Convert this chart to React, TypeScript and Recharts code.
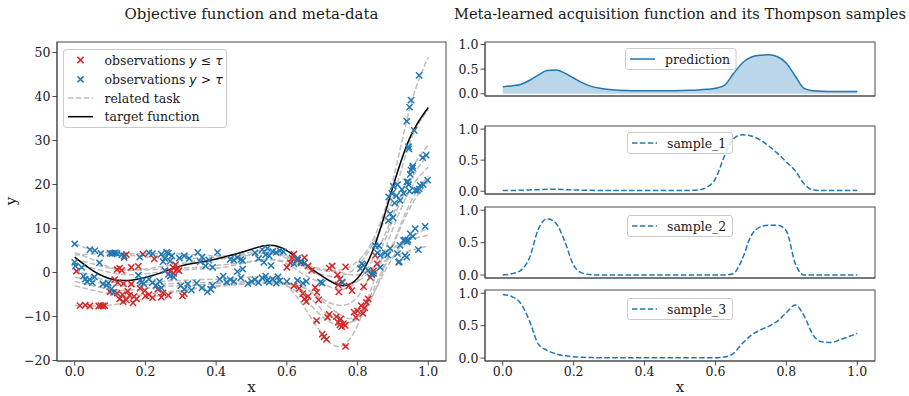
import React from 'react';
import { ComposedChart, Line, Scatter, Area, XAxis, YAxis } from 'recharts';

// ---------------- data: left panel ----------------
const xGrid = [0, 0.05, 0.1, 0.15, 0.2, 0.25, 0.3, 0.35, 0.4, 0.45, 0.5, 0.55, 0.6, 0.65, 0.7, 0.75, 0.8, 0.85, 0.9, 0.95, 1.0];
const target = [3.5, 0.5, -1.4, -1.8, -1.1, 0.1, 1.5, 2.3, 3.1, 4.1, 5.3, 6.2, 5.0, 2.0, -0.8, -2.9, -1.3, 6.5, 19.5, 31.0, 37.5];
const task1 = [6.5, 5.2, 4.5, 4.3, 4.3, 4.3, 4.2, 4.0, 3.8, 4.0, 4.6, 5.0, 3.8, 2.0, 0.8, 0.6, 2.5, 8.5, 21.0, 38.0, 49.0];
const task2 = [4.5, 3.0, 1.2, 0.6, 0.8, 1.4, 2.0, 2.6, 3.0, 3.4, 4.0, 4.4, 3.2, 1.2, -0.5, -0.8, 1.5, 7.5, 17.0, 30.0, 37.0];
const task3 = [2.0, 1.0, 0.0, -0.5, -0.3, 0.2, 0.5, 0.8, 1.0, 1.6, 2.5, 3.0, 2.0, -0.5, -2.5, -3.8, -2.0, 4.0, 13.0, 23.0, 29.0];
const task4 = [0.5, -0.8, -2.0, -2.5, -2.3, -2.0, -1.8, -1.6, -1.5, -1.3, -1.0, -1.0, -3.0, -8.0, -14.0, -16.8, -12.0, -1.0, 10.0, 19.0, 24.0];
const task5 = [-1.0, -2.0, -2.8, -3.0, -2.8, -2.6, -2.4, -2.3, -2.2, -2.2, -2.0, -2.0, -3.0, -6.0, -10.0, -12.0, -10.0, -3.0, 6.5, 16.0, 22.0];
const task6 = [-2.0, -3.0, -3.8, -4.0, -3.6, -3.2, -3.0, -2.8, -2.5, -2.5, -2.3, -2.2, -2.5, -4.5, -8.5, -11.0, -10.5, -4.0, 6.0, 15.0, 20.7];
const task7 = [-3.0, -4.0, -4.8, -5.3, -5.0, -4.5, -4.0, -3.5, -3.0, -2.6, -2.4, -2.3, -2.6, -3.5, -6.5, -9.5, -10.0, -4.0, 3.5, 8.0, 10.0];
const task8 = [4.0, 4.2, 4.2, 4.0, 3.6, 3.3, 3.2, 3.3, 3.5, 3.8, 4.2, 4.5, 3.5, 1.5, -1.0, -2.5, -2.0, 1.5, 5.5, 7.5, 8.5];
const task9 = [3.0, 2.0, 1.0, 0.5, 0.6, 0.8, 1.0, 1.2, 1.6, 2.0, 2.6, 3.0, 2.5, 1.5, 0.5, 0.0, -0.5, 1.5, 3.5, 5.0, 6.0];
const task10 = [-7.5, -7.6, -7.4, -6.8, -6.0, -5.0, -4.2, -3.6, -3.2, -2.8, -2.6, -2.4, -2.4, -3.5, -6.0, -7.5, -5.5, 2.0, 12.0, 21.0, 27.0];

const redObs = [
  { x: 0.005, y: 0.3 }, { x: 0.015, y: -7.5 }, { x: 0.03, y: -7.4 }, { x: 0.043, y: -7.6 }, { x: 0.068, y: -7.6 },
  { x: 0.074, y: -7.5 }, { x: 0.08, y: -7.6 }, { x: 0.085, y: -7.5 },
  { x: 0.12, y: 0.7 }, { x: 0.127, y: 1.0 }, { x: 0.133, y: 0.5 }, { x: 0.14, y: 3.8 }, { x: 0.146, y: 4.1 },
  { x: 0.16, y: 1.2 }, { x: 0.18, y: 1.4 }, { x: 0.193, y: 4.2 }, { x: 0.225, y: 3.1 },
  { x: 0.113, y: -1.6 }, { x: 0.122, y: -2.3 }, { x: 0.138, y: -2.5 }, { x: 0.16, y: -2.6 },
  { x: 0.1, y: -4.4 }, { x: 0.12, y: -4.7 }, { x: 0.135, y: -5.0 }, { x: 0.15, y: -4.2 },
  { x: 0.127, y: -6.0 }, { x: 0.137, y: -6.6 }, { x: 0.146, y: -6.2 }, { x: 0.155, y: -5.2 }, { x: 0.165, y: -6.9 },
  { x: 0.175, y: -6.0 }, { x: 0.168, y: -5.4 }, { x: 0.198, y: -4.1 }, { x: 0.185, y: -3.6 },
  { x: 0.2, y: -5.3 }, { x: 0.21, y: -5.0 }, { x: 0.22, y: -5.7 }, { x: 0.235, y: -3.8 }, { x: 0.25, y: -4.6 },
  { x: 0.265, y: -5.2 }, { x: 0.245, y: -5.6 },
  { x: 0.27, y: 0.2 }, { x: 0.278, y: 1.2 }, { x: 0.285, y: 1.8 }, { x: 0.29, y: 0.8 }, { x: 0.295, y: 0.4 },
  { x: 0.28, y: -0.2 }, { x: 0.31, y: -4.8 }, { x: 0.305, y: -5.3 },
  { x: 0.6, y: 1.2 }, { x: 0.61, y: 2.2 }, { x: 0.615, y: 3.3 }, { x: 0.62, y: 4.2 }, { x: 0.63, y: 2.8 },
  { x: 0.64, y: 2.2 }, { x: 0.65, y: 3.4 }, { x: 0.66, y: 1.5 }, { x: 0.67, y: 0.5 },
  { x: 0.62, y: -3.0 }, { x: 0.635, y: -3.6 }, { x: 0.645, y: -4.8 }, { x: 0.65, y: -6.0 }, { x: 0.655, y: -6.6 },
  { x: 0.66, y: -5.4 }, { x: 0.68, y: -3.4 }, { x: 0.685, y: -4.5 }, { x: 0.69, y: -6.2 },
  { x: 0.684, y: -10.9 }, { x: 0.7, y: -14.0 }, { x: 0.705, y: -14.6 }, { x: 0.712, y: -15.2 }, { x: 0.72, y: -9.5 },
  { x: 0.715, y: -10.2 }, { x: 0.72, y: 1.0 }, { x: 0.728, y: 1.5 },
  { x: 0.743, y: -0.5 }, { x: 0.75, y: -1.5 }, { x: 0.757, y: -2.3 }, { x: 0.745, y: -2.8 }, { x: 0.747, y: -4.4 },
  { x: 0.74, y: -10.0 }, { x: 0.745, y: -11.3 }, { x: 0.75, y: -11.9 }, { x: 0.755, y: -12.3 }, { x: 0.76, y: -11.6 },
  { x: 0.765, y: -12.0 }, { x: 0.752, y: -10.5 }, { x: 0.766, y: -16.8 },
  { x: 0.766, y: 1.3 }, { x: 0.784, y: -4.1 }, { x: 0.775, y: -3.0 }, { x: 0.79, y: -9.0 }, { x: 0.795, y: -10.2 },
  { x: 0.8, y: -8.7 }, { x: 0.81, y: -7.5 }, { x: 0.82, y: -8.0 }, { x: 0.825, y: -6.8 }, { x: 0.83, y: -6.0 },
  { x: 0.815, y: -9.3 }, { x: 0.836, y: -1.1 }, { x: 0.84, y: -0.3 }, { x: 0.845, y: 0.4 }, { x: 0.85, y: 3.9 },
  { x: 0.817, y: -3.2 }, { x: 0.855, y: 2.0 },
];

const blueObs = [
  { x: 0.0, y: 6.5 }, { x: 0.0, y: 2.3 }, { x: 0.002, y: 1.5 }, { x: 0.02, y: 1.2 }, { x: 0.025, y: -0.8 },
  { x: 0.03, y: -1.5 }, { x: 0.035, y: -2.1 }, { x: 0.042, y: -1.6 }, { x: 0.05, y: -2.3 }, { x: 0.056, y: -1.0 },
  { x: 0.043, y: 5.2 }, { x: 0.057, y: 5.0 }, { x: 0.074, y: 4.3 }, { x: 0.1, y: 4.4 }, { x: 0.105, y: 4.3 },
  { x: 0.11, y: 4.4 }, { x: 0.115, y: 4.5 }, { x: 0.12, y: 4.3 }, { x: 0.133, y: 4.0 }, { x: 0.14, y: 3.4 },
  { x: 0.07, y: 2.2 }, { x: 0.08, y: -2.6 }, { x: 0.09, y: -2.9 }, { x: 0.095, y: -2.4 }, { x: 0.104, y: -3.7 },
  { x: 0.11, y: -4.5 },
  { x: 0.18, y: -0.6 }, { x: 0.185, y: -1.8 }, { x: 0.195, y: -2.5 }, { x: 0.21, y: -1.5 }, { x: 0.22, y: -2.3 },
  { x: 0.23, y: -3.0 }, { x: 0.24, y: -2.0 }, { x: 0.245, y: -3.5 }, { x: 0.19, y: -2.2 },
  { x: 0.184, y: 3.5 }, { x: 0.21, y: 4.5 }, { x: 0.22, y: 4.3 }, { x: 0.245, y: 4.2 }, { x: 0.255, y: 3.2 },
  { x: 0.265, y: 4.4 }, { x: 0.27, y: 2.6 }, { x: 0.275, y: 3.8 }, { x: 0.25, y: 2.5 }, { x: 0.26, y: 4.6 },
  { x: 0.255, y: 0.5 }, { x: 0.265, y: -0.4 }, { x: 0.28, y: -1.0 }, { x: 0.27, y: -0.8 },
  { x: 0.296, y: 3.3 }, { x: 0.31, y: 3.8 }, { x: 0.324, y: 3.2 }, { x: 0.348, y: 4.6 }, { x: 0.355, y: 2.5 },
  { x: 0.37, y: 1.5 }, { x: 0.38, y: 2.8 }, { x: 0.39, y: 1.2 }, { x: 0.404, y: 4.6 }, { x: 0.36, y: 3.5 },
  { x: 0.3, y: -3.0 }, { x: 0.31, y: -3.8 }, { x: 0.32, y: -2.6 }, { x: 0.33, y: -4.0 }, { x: 0.345, y: -2.4 },
  { x: 0.36, y: -3.5 }, { x: 0.375, y: -4.4 }, { x: 0.39, y: -2.9 }, { x: 0.385, y: -3.8 },
  { x: 0.41, y: -1.5 }, { x: 0.42, y: -0.8 }, { x: 0.43, y: -2.2 }, { x: 0.44, y: -1.6 }, { x: 0.45, y: -2.0 },
  { x: 0.46, y: 0.2 }, { x: 0.475, y: 0.8 }, { x: 0.47, y: -1.2 },
  { x: 0.44, y: 3.0 }, { x: 0.45, y: 2.8 }, { x: 0.46, y: 3.4 }, { x: 0.47, y: 3.0 }, { x: 0.475, y: 2.7 },
  { x: 0.49, y: -2.5 }, { x: 0.5, y: -2.0 }, { x: 0.51, y: -1.6 }, { x: 0.52, y: -2.3 }, { x: 0.53, y: -1.2 },
  { x: 0.54, y: -0.8 }, { x: 0.545, y: -1.8 }, { x: 0.55, y: -2.2 }, { x: 0.56, y: -1.5 }, { x: 0.57, y: -2.4 },
  { x: 0.58, y: -1.9 }, { x: 0.6, y: -2.0 }, { x: 0.575, y: -1.0 },
  { x: 0.51, y: 4.5 }, { x: 0.52, y: 3.2 }, { x: 0.53, y: 5.2 }, { x: 0.535, y: 2.3 }, { x: 0.54, y: 4.0 },
  { x: 0.545, y: 5.5 }, { x: 0.555, y: 1.6 }, { x: 0.56, y: 4.8 }, { x: 0.57, y: 4.6 }, { x: 0.58, y: 5.0 },
  { x: 0.59, y: 4.7 }, { x: 0.55, y: 3.8 },
  { x: 0.62, y: 2.0 }, { x: 0.63, y: 3.2 }, { x: 0.64, y: 2.5 }, { x: 0.65, y: 2.2 },
  { x: 0.63, y: -1.8 }, { x: 0.645, y: -2.4 }, { x: 0.655, y: -2.0 }, { x: 0.695, y: -2.2 }, { x: 0.7, y: -2.4 },
  { x: 0.756, y: -2.2 },
  { x: 0.808, y: 0.9 }, { x: 0.812, y: 2.0 }, { x: 0.816, y: 1.7 }, { x: 0.83, y: 0.5 }, { x: 0.84, y: -0.5 },
  { x: 0.845, y: -0.2 },
  { x: 0.856, y: 4.5 }, { x: 0.86, y: 6.1 }, { x: 0.864, y: 3.9 }, { x: 0.878, y: 4.5 }, { x: 0.885, y: 4.0 },
  { x: 0.892, y: 5.5 }, { x: 0.85, y: 6.1 }, { x: 0.864, y: 1.2 },
  { x: 0.916, y: 2.3 }, { x: 0.934, y: 3.9 }, { x: 0.939, y: 3.5 }, { x: 0.913, y: 4.3 }, { x: 0.918, y: 2.5 },
  { x: 0.92, y: 6.2 }, { x: 0.93, y: 7.3 }, { x: 0.94, y: 7.0 }, { x: 0.934, y: 7.4 }, { x: 0.942, y: 7.4 },
  { x: 0.949, y: 8.8 }, { x: 0.956, y: 8.2 }, { x: 0.963, y: 10.0 }, { x: 0.972, y: 5.2 }, { x: 0.991, y: 10.5 },
  { x: 0.887, y: 11.8 }, { x: 0.892, y: 13.4 }, { x: 0.9, y: 12.5 }, { x: 0.888, y: 17.2 }, { x: 0.897, y: 18.0 },
  { x: 0.901, y: 19.6 }, { x: 0.913, y: 20.0 }, { x: 0.92, y: 16.4 }, { x: 0.925, y: 18.9 }, { x: 0.93, y: 18.0 },
  { x: 0.91, y: 17.5 }, { x: 0.905, y: 15.8 },
  { x: 0.939, y: 20.6 }, { x: 0.944, y: 20.0 }, { x: 0.947, y: 18.5 }, { x: 0.942, y: 20.6 }, { x: 0.949, y: 22.3 },
  { x: 0.951, y: 23.3 }, { x: 0.955, y: 23.8 }, { x: 0.956, y: 24.2 }, { x: 0.963, y: 18.7 }, { x: 0.969, y: 18.7 },
  { x: 0.974, y: 19.0 }, { x: 0.977, y: 19.8 }, { x: 0.986, y: 20.0 }, { x: 0.998, y: 21.0 },
  { x: 0.984, y: 26.1 }, { x: 0.994, y: 26.7 },
  { x: 0.939, y: 34.4 }, { x: 0.947, y: 37.6 }, { x: 0.951, y: 39.2 }, { x: 0.974, y: 44.8 }, { x: 0.944, y: 28.6 },
  { x: 0.945, y: 28.1 }, { x: 0.96, y: 32.3 },
];

const xTicks = [0, 0.2, 0.4, 0.6, 0.8, 1.0];
const yTicksLeft = [-20, -10, 0, 10, 20, 30, 40, 50];
const yTicksRight = [0, 0.5, 1.0];

// ---------------- data: right panels ----------------
const accX = [0, 0.025, 0.05, 0.075, 0.1, 0.125, 0.15, 0.175, 0.2, 0.225, 0.25, 0.275, 0.3, 0.325, 0.35, 0.375, 0.4, 0.425, 0.45, 0.475, 0.5,
  0.525, 0.55, 0.575, 0.6, 0.625, 0.65, 0.675, 0.7, 0.725, 0.75, 0.775, 0.8, 0.825, 0.85, 0.875, 0.9, 0.925, 0.95, 0.975, 1.0];
const prediction = [0.14, 0.16, 0.19, 0.27, 0.38, 0.47, 0.48, 0.42, 0.32, 0.22, 0.15, 0.11, 0.085, 0.072, 0.066, 0.062, 0.06, 0.06, 0.06, 0.062, 0.065,
  0.07, 0.078, 0.09, 0.11, 0.17, 0.4, 0.62, 0.74, 0.78, 0.79, 0.75, 0.62, 0.36, 0.11, 0.06, 0.05, 0.048, 0.046, 0.045, 0.045];
const sample1 = [0.01, 0.012, 0.015, 0.02, 0.025, 0.03, 0.03, 0.026, 0.021, 0.017, 0.014, 0.012, 0.01, 0.01, 0.01, 0.01, 0.01, 0.01, 0.01, 0.01, 0.01,
  0.012, 0.02, 0.06, 0.2, 0.56, 0.84, 0.91, 0.89, 0.83, 0.73, 0.61, 0.47, 0.33, 0.12, 0.02, 0.01, 0.01, 0.01, 0.01, 0.01];
const sample2 = [0, 0.02, 0.07, 0.26, 0.7, 0.87, 0.8, 0.52, 0.15, 0.03, 0.005, 0, 0, 0, 0, 0, 0, 0, 0, 0, 0,
  0, 0, 0, 0, 0, 0.02, 0.24, 0.6, 0.74, 0.77, 0.77, 0.68, 0.18, 0, 0, 0, 0, 0, 0, 0];
const sample3 = [0.98, 0.95, 0.85, 0.58, 0.22, 0.12, 0.065, 0.035, 0.02, 0.012, 0.008, 0.005, 0.005, 0.005, 0.005, 0.005, 0.005, 0.005, 0.005, 0.005, 0.005,
  0.005, 0.005, 0.005, 0.005, 0.015, 0.07, 0.22, 0.35, 0.43, 0.49, 0.57, 0.7, 0.82, 0.65, 0.36, 0.25, 0.24, 0.28, 0.33, 0.38];

// ---------------- styling ----------------
const FONT = '"DejaVu Serif", serif';
const MATH = '"DejaVu Sans", sans-serif';
const AX = '#4a4a4a';
const BLUE = '#1f77b4';
const RED = '#d62728';
const GRAY = '#bdbdbd';
const TEXT = '#1a1a1a';
const tickStyle = { fontFamily: FONT, fontSize: 12.5, fill: TEXT, style: { fontFamily: FONT } };
const fmt = (d: number) => (v: number) => v.toFixed(d).replace('-', '\u2212');

const taskKeys = ['t1', 't2', 't3', 't4', 't5', 't6', 't7', 't8', 't9', 't10'];
const taskArrays = [task1, task2, task3, task4, task5, task6, task7, task8, task9, task10];
const leftTable = xGrid.map((x, i) => {
  const row: any = { x, target: target[i] };
  taskKeys.forEach((k, j) => { row[k] = taskArrays[j][i]; });
  return row;
});
const rightTable = accX.map((x, i) => ({ x, prediction: prediction[i], s1: sample1[i], s2: sample2[i], s3: sample3[i] }));

// plot-frame rectangles (spines)
const frames = [
  { x: 57, y: 42, w: 389, h: 319 },
  { x: 485, y: 42, w: 390, h: 54 },
  { x: 485, y: 126, w: 390, h: 68 },
  { x: 485, y: 207, w: 390, h: 71 },
  { x: 485, y: 290, w: 390, h: 71 },
];

function XMark({ cx, cy, color }: any) {
  if (cx == null || cy == null) return null;
  const s = 3.1;
  return (
    <path d={`M${cx - s},${cy - s}L${cx + s},${cy + s}M${cx - s},${cy + s}L${cx + s},${cy - s}`}
      stroke={color} strokeWidth={1.5} fill="none" />
  );
}

function LeftChart() {
  return (
    <div style={{ position: 'absolute', left: 0, top: 0 }}>
      <ComposedChart width={460} height={396} data={leftTable} margin={{ top: 42, right: 14, bottom: 0, left: 0 }}>
        <XAxis dataKey="x" type="number" domain={[-0.05, 1.05]} ticks={xTicks} tickFormatter={fmt(1)}
          height={35} tickSize={4.5} tickMargin={2} stroke={AX} tick={tickStyle} allowDataOverflow />
        <YAxis type="number" domain={[-20.1, 52.4]} ticks={yTicksLeft} tickFormatter={fmt(0)}
          width={57} tickSize={4.5} tickMargin={2} stroke={AX} tick={tickStyle} allowDataOverflow />
        <Scatter data={redObs} dataKey="y" isAnimationActive={false}
          shape={(p: any) => <XMark cx={p.cx} cy={p.cy} color={RED} />} />
        <Scatter data={blueObs} dataKey="y" isAnimationActive={false}
          shape={(p: any) => <XMark cx={p.cx} cy={p.cy} color={BLUE} />} />
        {taskKeys.map((k) => (
          <Line key={k} dataKey={k} type="natural" stroke={GRAY} strokeWidth={1.5} strokeDasharray="5.5 2.4"
            dot={false} activeDot={false} isAnimationActive={false} />
        ))}
        <Line dataKey="target" type="natural" stroke="#000" strokeWidth={1.5} dot={false} activeDot={false}
          isAnimationActive={false} />
      </ComposedChart>
    </div>
  );
}

function RightPanel({ top, plotH, bottomH, showLabels, children }: any) {
  return (
    <div style={{ position: 'absolute', left: 440, top: top - 5 }}>
      <ComposedChart width={450} height={5 + plotH + bottomH} data={rightTable}
        margin={{ top: 5, right: 15, bottom: 0, left: 0 }}>
        <XAxis dataKey="x" type="number" domain={[-0.05, 1.05]} ticks={xTicks} tickFormatter={fmt(1)}
          height={bottomH} tickSize={4.5} tickMargin={2} stroke={AX}
          tick={showLabels ? tickStyle : false} allowDataOverflow />
        <YAxis type="number" domain={[-0.045, 1.05]} ticks={yTicksRight} tickFormatter={fmt(1)}
          width={45} tickSize={4.5} tickMargin={2} stroke={AX} tick={tickStyle} allowDataOverflow />
        {children}
      </ComposedChart>
    </div>
  );
}

function LegendBox({ left, top, width, height, children }: any) {
  return (
    <svg style={{ position: 'absolute', left, top, overflow: 'visible' }} width={width} height={height}>
      <rect x={0.5} y={0.5} width={width - 1} height={height - 1} rx={2.5} ry={2.5}
        fill="rgba(255,255,255,0.8)" stroke="#cccccc" strokeWidth={1} />
      {children}
    </svg>
  );
}

function LText({ x, y, children }: any) {
  return (
    <text x={x} y={y} dominantBaseline="central" fontFamily={FONT} style={{ fontFamily: FONT }} fontSize={12.5} fill={TEXT}>
      {children}
    </text>
  );
}

function SmallLegend({ left, top, width, label, dashed }: any) {
  return (
    <LegendBox left={left} top={top} width={width} height={22}>
      <line x1={5} x2={30} y1={11} y2={11} stroke={BLUE} strokeWidth={1.5}
        strokeDasharray={dashed ? '5.5 2.4' : undefined} />
      <LText x={40} y={11}>{label}</LText>
    </LegendBox>
  );
}

export default function App() {
  return (
    <div style={{ position: 'absolute', left: 0, top: 0, width: 909, height: 396, background: '#fff', overflow: 'hidden' }}>
      <LeftChart />

      <RightPanel top={42} plotH={54} bottomH={10} showLabels={false}>
        <Area dataKey="prediction" type="monotone" baseValue={0} stroke={BLUE} strokeWidth={1.5}
          fill={BLUE} fillOpacity={0.3} dot={false} activeDot={false} isAnimationActive={false} />
      </RightPanel>
      <RightPanel top={126} plotH={68} bottomH={10} showLabels={false}>
        <Line dataKey="s1" type="monotone" stroke={BLUE} strokeWidth={1.5} strokeDasharray="5.5 2.4"
          dot={false} activeDot={false} isAnimationActive={false} />
      </RightPanel>
      <RightPanel top={207} plotH={71} bottomH={10} showLabels={false}>
        <Line dataKey="s2" type="monotone" stroke={BLUE} strokeWidth={1.5} strokeDasharray="5.5 2.4"
          dot={false} activeDot={false} isAnimationActive={false} />
      </RightPanel>
      <RightPanel top={290} plotH={71} bottomH={35} showLabels={true}>
        <Line dataKey="s3" type="monotone" stroke={BLUE} strokeWidth={1.5} strokeDasharray="5.5 2.4"
          dot={false} activeDot={false} isAnimationActive={false} />
      </RightPanel>

      {/* spines: top/right frame */}
      <svg style={{ position: 'absolute', left: 0, top: 0, pointerEvents: 'none' }} width={909} height={396}>
        {frames.map((f, i) => (
          <rect key={i} x={f.x} y={f.y} width={f.w} height={f.h} fill="none" stroke={AX} strokeWidth={1} />
        ))}
      </svg>

      {/* legends */}
      <LegendBox left={62.5} top={49} width={164} height={79}>
        <XMark cx={17.5} cy={11} color={RED} />
        <LText x={41.5} y={11}>
          observations <tspan fontFamily={MATH} style={{ fontFamily: MATH }} fontStyle="italic">y</tspan>
          <tspan fontFamily={MATH} style={{ fontFamily: MATH }}>{' \u2264 '}</tspan>
          <tspan fontFamily={MATH} style={{ fontFamily: MATH }} fontStyle="italic">{'\u03c4'}</tspan>
        </LText>
        <XMark cx={17.5} cy={30.3} color={BLUE} />
        <LText x={41.5} y={30.3}>
          observations <tspan fontFamily={MATH} style={{ fontFamily: MATH }} fontStyle="italic">y</tspan>
          <tspan fontFamily={MATH} style={{ fontFamily: MATH }}>{' > '}</tspan>
          <tspan fontFamily={MATH} style={{ fontFamily: MATH }} fontStyle="italic">{'\u03c4'}</tspan>
        </LText>
        <line x1={5} x2={30} y1={49} y2={49} stroke={GRAY} strokeWidth={1.5} strokeDasharray="5.5 2.4" />
        <LText x={41.5} y={49}>related task</LText>
        <line x1={5} x2={30} y1={67.7} y2={67.7} stroke="#000" strokeWidth={1.5} />
        <LText x={41.5} y={67.7}>target function</LText>
      </LegendBox>

      <SmallLegend left={624.5} top={48.3} width={111.5} label="prediction" dashed={false} />
      <SmallLegend left={627.3} top={131.7} width={106} label="sample_1" dashed={true} />
      <SmallLegend left={627.3} top={214.5} width={106} label="sample_2" dashed={true} />
      <SmallLegend left={627.3} top={298.3} width={106} label="sample_3" dashed={true} />

      {/* titles and axis labels */}
      <svg style={{ position: 'absolute', left: 0, top: 0, pointerEvents: 'none', fontFamily: FONT }} width={909} height={396}>
        <text x={251.5} y={19} textAnchor="middle" fontFamily={FONT} fontSize={15} fill={TEXT}>
          Objective function and meta-data
        </text>
        <text x={680} y={19} textAnchor="middle" fontFamily={FONT} fontSize={14.6} fill={TEXT}
          textLength={452} lengthAdjust="spacingAndGlyphs">
          Meta-learned acquisition function and its Thompson samples
        </text>
        <text transform="translate(15.5,201) rotate(-90)" textAnchor="middle" fontFamily={FONT} fontSize={15} fill={TEXT}>y</text>
        <text x={251.5} y={392} textAnchor="middle" fontFamily={FONT} fontSize={15} fill={TEXT}>x</text>
        <text x={680} y={392} textAnchor="middle" fontFamily={FONT} fontSize={15} fill={TEXT}>x</text>
      </svg>
    </div>
  );
}
